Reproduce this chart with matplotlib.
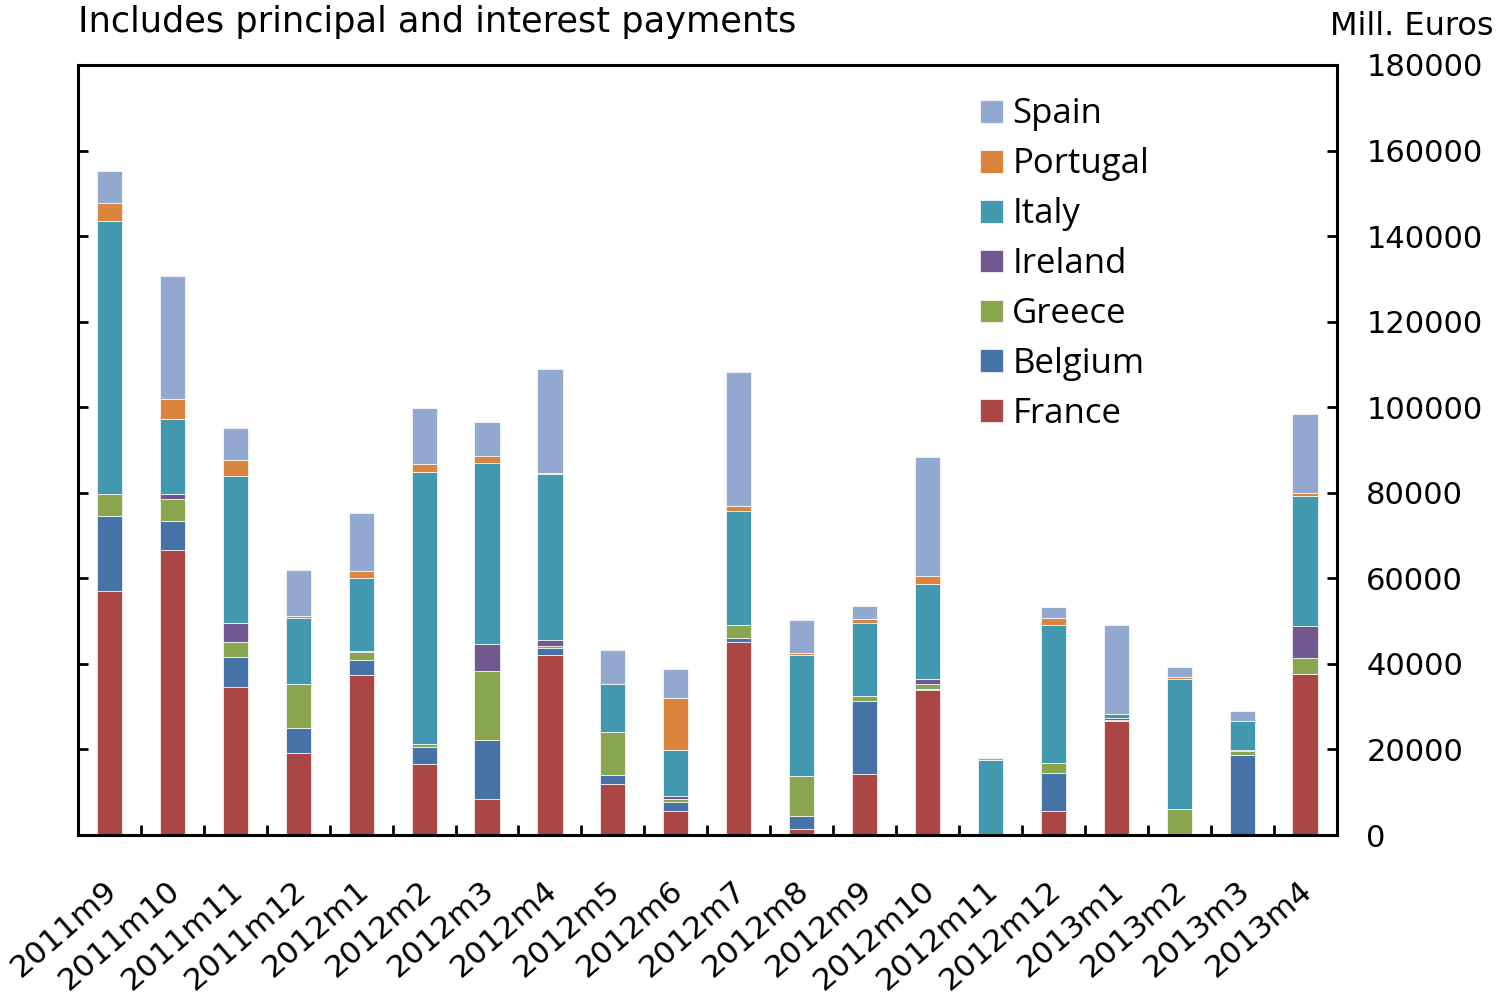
import numpy as np
import matplotlib.pyplot as plt
from matplotlib.ticker import FixedLocator
from matplotlib.transforms import ScaledTranslation

plt.rcParams['font.family'] = ['DejaVu Sans']

# Monthly debt service (principal + interest), million euros
months = ['2011m9', '2011m10', '2011m11', '2011m12', '2012m1', '2012m2', '2012m3',
          '2012m4', '2012m5', '2012m6', '2012m7', '2012m8', '2012m9', '2012m10',
          '2012m11', '2012m12', '2013m1', '2013m2', '2013m3', '2013m4']

france   = [57000, 66600, 34600, 19200, 37400, 16500, 8400, 42000, 12000, 5700,
            45200, 1300, 14300, 33900, 0, 5700, 26600, 0, 0, 37700]
belgium  = [17600, 6800, 7000, 5800, 3500, 4000, 13900, 1700, 2100, 2000,
            900, 3100, 17100, 300, 0, 8700, 0, 0, 18700, 0]
greece   = [5100, 5100, 3500, 10300, 1900, 800, 16100, 400, 9900, 800,
            3000, 9500, 1200, 1200, 0, 2400, 400, 6000, 900, 3600]
ireland  = [0, 1200, 4500, 0, 300, 0, 6300, 1500, 0, 700,
            0, 0, 0, 1100, 0, 0, 300, 0, 300, 7600]
italy    = [63800, 17500, 34300, 15400, 16900, 63600, 42200, 38700, 11200, 10700,
            26700, 28100, 17000, 22200, 17500, 32400, 900, 30400, 6700, 30300]
portugal = [4200, 4700, 3800, 500, 1800, 1900, 1600, 400, 0, 12200,
            1200, 500, 800, 1900, 0, 1500, 0, 500, 0, 800]
spain    = [7500, 28700, 7400, 10700, 13400, 13100, 8000, 24200, 8100, 6800,
            31200, 7700, 3200, 27700, 400, 2500, 20900, 2300, 2400, 18300]

series = [('France', france, '#AA4643'),
          ('Belgium', belgium, '#4572A7'),
          ('Greece', greece, '#89A54E'),
          ('Ireland', ireland, '#71588F'),
          ('Italy', italy, '#4198AF'),
          ('Portugal', portugal, '#DB843D'),
          ('Spain', spain, '#93A9CF')]

fig = plt.figure(figsize=(15, 9.98), dpi=100)
ax = fig.add_axes([0.052, 0.1633, 0.839, 0.7716])

x = np.arange(len(months))
bottom = np.zeros(len(months))
handles = []
for name, vals, col in series:
    vals = np.array(vals, dtype=float)
    b = ax.bar(x, vals, width=0.4, bottom=bottom, color=col,
               edgecolor='white', linewidth=0.5, label=name)
    handles.append(b)
    bottom += vals

ax.set_xlim(-0.5, len(months) - 0.5)
ax.set_ylim(0, 180000)

# y axis: labels on the right, inward ticks on both sides
ax.set_yticks(np.arange(0, 180001, 20000))
ax.tick_params(axis='y', which='major', left=True, right=True, labelleft=False,
               labelright=True, direction='in', length=7, width=2, pad=21.5,
               labelsize=22)

# x axis: labels at bar centres, tick marks between bars
ax.set_xticks(x)
ax.set_xticklabels(months, rotation=41, ha='right', va='top',
                   rotation_mode='anchor', fontsize=22.5)
ax.tick_params(axis='x', which='major', length=0, pad=29)
shift = ScaledTranslation(-6 / 100, 0, fig.dpi_scale_trans)
for lab in ax.get_xticklabels():
    lab.set_transform(lab.get_transform() + shift)
ax.xaxis.set_minor_locator(FixedLocator(np.arange(0.5, len(months) - 0.5, 1)))
ax.tick_params(axis='x', which='minor', direction='in', length=7, width=2,
               bottom=True, top=False)

for s in ax.spines.values():
    s.set_linewidth(2.2)

fig.text(0.052, 0.968, 'Includes principal and interest payments',
         ha='left', va='baseline', fontsize=25.3)
fig.text(0.996, 0.965, 'Mill. Euros', ha='right', va='baseline', fontsize=23)

leg = ax.legend(handles[::-1], [s[0] for s in series][::-1],
                loc='upper left', bbox_to_anchor=(0.717, 0.958),
                frameon=False, borderaxespad=0, borderpad=0,
                handlelength=0.64, handleheight=0.64, handletextpad=0.28,
                labelspacing=0.46, prop=dict(family='Open Sans', size=25))

fig.savefig('out.png', dpi=100)
